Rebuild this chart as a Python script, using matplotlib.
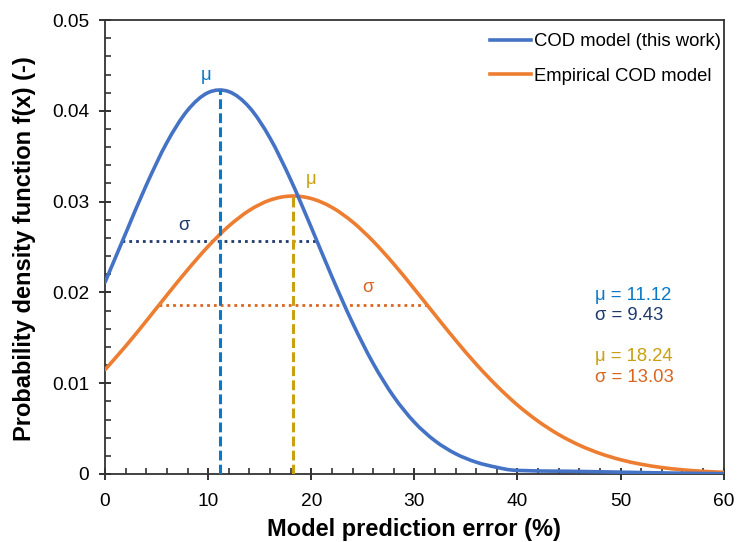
import numpy as np
import matplotlib
matplotlib.use("Agg")
import matplotlib.pyplot as plt
from matplotlib.path import Path
from matplotlib.patches import PathPatch
from matplotlib.lines import Line2D
from matplotlib.ticker import MultipleLocator

plt.rcParams['font.family'] = ['Liberation Sans', 'DejaVu Sans']

# Model prediction error (%) and probability density f(x)
x_cod = [0, 2, 4, 6, 8, 10, 12, 14, 16, 18, 20, 22, 24, 26, 28, 30, 32, 34, 36, 38, 40,
         45, 50, 55, 60]
f_cod = [0.02111, 0.02650, 0.03181, 0.03651, 0.04005, 0.04201, 0.04212, 0.04038, 0.03700,
         0.03242, 0.02716, 0.02174, 0.01665, 0.01218, 0.00852, 0.00570, 0.00365, 0.00223,
         0.00130, 0.00073, 0.00039, 0.00030, 0.00020, 0.00010, 0.00003]

x_emp = [0, 2, 4, 6, 8, 10, 12, 14, 16, 18, 20, 22, 24, 26, 28, 30, 32, 34, 36, 38, 40,
         42, 44, 46, 48, 50, 52, 54, 56, 58, 60]
f_emp = [0.01149, 0.01408, 0.01685, 0.01970, 0.02248, 0.02507, 0.02730, 0.02904, 0.03017,
         0.03061, 0.03034, 0.02937, 0.02777, 0.02564, 0.02313, 0.02037, 0.01753, 0.01473,
         0.01209, 0.00970, 0.00759, 0.00581, 0.00434, 0.00317, 0.00226, 0.00157, 0.00107,
         0.00071, 0.00046, 0.00029, 0.00018]

# Distribution statistics
mu_cod, sigma_cod, peak_cod = 11.12, 9.43, 0.04230
mu_emp, sigma_emp, peak_emp = 18.24, 13.03, 0.03062
# density at one standard deviation from the mean
f_sig_cod = 0.02566
f_sig_emp = 0.01857

BLUE = '#4472C4'
ORANGE = '#ED7D31'
MU_BLUE = '#0A78C8'
NAVY = '#1F3A6E'
GOLD = '#C9A010'
SIG_ORANGE = '#D9661F'


def smooth_path(xs, ys, tension=1 / 6):
    """Catmull-Rom style Bezier path through the given points."""
    pts = np.column_stack([xs, ys]).astype(float)
    verts = [tuple(pts[0])]
    codes = [Path.MOVETO]
    n = len(pts)
    for i in range(n - 1):
        p0 = pts[i - 1] if i > 0 else pts[i]
        p1 = pts[i]
        p2 = pts[i + 1]
        p3 = pts[i + 2] if i + 2 < n else pts[i + 1]
        c1 = p1 + (p2 - p0) * tension
        c2 = p2 - (p3 - p1) * tension
        verts += [tuple(c1), tuple(c2), tuple(p2)]
        codes += [Path.CURVE4] * 3
    return Path(verts, codes)


fig = plt.figure(figsize=(7.37, 5.42), dpi=100)
ax = fig.add_axes([0.1425, 0.1255, 0.8395, 0.8375])

for xs, ys, col in [(x_emp, f_emp, ORANGE), (x_cod, f_cod, BLUE)]:
    ax.add_patch(PathPatch(smooth_path(xs, ys), facecolor='none', edgecolor=col,
                           lw=2.6, capstyle='round', zorder=3))

# mean markers
ax.plot([mu_cod, mu_cod], [0, peak_cod], color=MU_BLUE, lw=2.2, ls=(0, (3.2, 1.4)), zorder=4)
ax.plot([mu_emp, mu_emp], [0, peak_emp], color=GOLD, lw=2.2, ls=(0, (3.2, 1.4)), zorder=4)
# standard deviation markers
ax.plot([mu_cod - sigma_cod, mu_cod + sigma_cod], [f_sig_cod, f_sig_cod], color=NAVY,
        lw=2.0, ls=(0, (1, 1.45)), zorder=2)
ax.plot([mu_emp - sigma_emp, mu_emp + sigma_emp], [f_sig_emp, f_sig_emp], color=SIG_ORANGE,
        lw=2.0, ls=(0, (1, 1.45)), zorder=2)

fs = 13.3
ax.text(9.8, 0.0439, 'μ', color=MU_BLUE, fontsize=fs, ha='center', va='center')
ax.text(20.0, 0.0324, 'μ', color=GOLD, fontsize=fs, ha='center', va='center')
ax.text(7.7, 0.0274, 'σ', color=NAVY, fontsize=fs, ha='center', va='center')
ax.text(25.5, 0.0205, 'σ', color=SIG_ORANGE, fontsize=fs, ha='center', va='center')

ax.text(47.5, 0.01971, f'μ = {mu_cod:.2f}', color=MU_BLUE, fontsize=fs, va='center')
ax.text(47.5, 0.01751, f'σ = {sigma_cod:.2f}', color=NAVY, fontsize=fs, va='center')
ax.text(47.5, 0.01289, f'μ = {mu_emp:.2f}', color=GOLD, fontsize=fs, va='center')
ax.text(47.5, 0.01068, f'σ = {sigma_emp:.2f}', color=SIG_ORANGE, fontsize=fs, va='center')

ax.set_xlim(0, 60)
ax.set_ylim(0, 0.05)
ax.xaxis.set_major_locator(MultipleLocator(10))
ax.xaxis.set_minor_locator(MultipleLocator(2))
ax.yaxis.set_minor_locator(MultipleLocator(0.002))
ax.set_yticks([0, 0.01, 0.02, 0.03, 0.04, 0.05])
ax.set_yticklabels(['0', '0.01', '0.02', '0.03', '0.04', '0.05'])
ax.tick_params(which='major', direction='inout', length=9, width=1.3, labelsize=13.8,
               color='#222222')
ax.tick_params(axis='x', which='major', pad=9)
ax.tick_params(axis='y', which='major', pad=7)
ax.tick_params(which='minor', direction='in', length=4.5, width=1.1, color='#222222')
for s in ax.spines.values():
    s.set_linewidth(1.3)
    s.set_color('#333333')

ax.set_xlabel('Model prediction error (%)', fontsize=17, fontweight='bold')
ax.xaxis.set_label_coords(0.5, -0.097)
ax.xaxis.label.set_va('top')
ax.set_ylabel('Probability density function f(x) (-)', fontsize=17, fontweight='bold')
ax.yaxis.set_label_coords(-0.111, 0.497)

handles = [Line2D([], [], color=BLUE, lw=2.6), Line2D([], [], color=ORANGE, lw=2.6)]
ax.legend(handles, ['COD model (this work)', 'Empirical COD model'], loc='upper right',
          bbox_to_anchor=(1.016, 1.0), frameon=False, fontsize=fs, handlelength=2.2,
          handletextpad=0.15, labelspacing=0.95, borderaxespad=0.3)

fig.savefig('out.png', dpi=100)
